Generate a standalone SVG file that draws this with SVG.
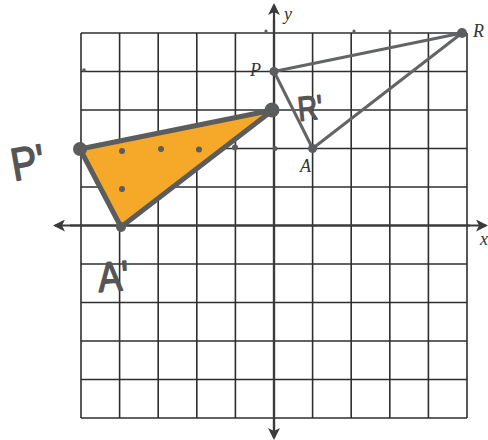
<svg xmlns="http://www.w3.org/2000/svg" width="488" height="440" viewBox="0 0 488 440">
<defs>
<style>
.grid line{stroke:#2e2e2e;stroke-width:1.6}
.axis{stroke:#3a3a3a;stroke-width:2.2;fill:none}
.lbl{font-family:"Liberation Serif",serif;font-style:italic;font-size:18px;fill:#333}
.hand{font-family:"Liberation Sans",sans-serif;fill:#555;stroke:#555;stroke-width:1.5;stroke-linejoin:round}
.orig{stroke:#626466;stroke-width:3;fill:none;stroke-linejoin:round}
.img{stroke:#5b5c5e;stroke-width:5;fill:#F6A928;stroke-linejoin:round}
.pt{fill:#5b5c5e}
</style>
<marker id="ah" viewBox="0 0 12 12" refX="10" refY="6" markerWidth="12" markerHeight="12" markerUnits="userSpaceOnUse" orient="auto">
<path d="M0,0 L12,6 L0,12 L3,6 Z" fill="#3a3a3a"/>
</marker>
</defs>
<rect width="488" height="440" fill="#ffffff"/>
<g id="grid" class="grid">
<line x1="81" y1="33" x2="81" y2="418"/>
<line x1="119.6" y1="33" x2="119.6" y2="418"/>
<line x1="158.2" y1="33" x2="158.2" y2="418"/>
<line x1="196.8" y1="33" x2="196.8" y2="418"/>
<line x1="235.4" y1="33" x2="235.4" y2="418"/>
<line x1="312.6" y1="33" x2="312.6" y2="418"/>
<line x1="351.2" y1="33" x2="351.2" y2="418"/>
<line x1="389.8" y1="33" x2="389.8" y2="418"/>
<line x1="428.4" y1="33" x2="428.4" y2="418"/>
<line x1="467" y1="33" x2="467" y2="418"/>
<line x1="81" y1="33" x2="467" y2="33"/>
<line x1="81" y1="71.5" x2="467" y2="71.5"/>
<line x1="81" y1="110" x2="467" y2="110"/>
<line x1="81" y1="148.5" x2="467" y2="148.5"/>
<line x1="81" y1="187" x2="467" y2="187"/>
<line x1="81" y1="264" x2="467" y2="264"/>
<line x1="81" y1="302.5" x2="467" y2="302.5"/>
<line x1="81" y1="341" x2="467" y2="341"/>
<line x1="81" y1="379.5" x2="467" y2="379.5"/>
<line x1="81" y1="418" x2="467" y2="418"/>
</g>
<g id="marks" class="pt">
<circle cx="266" cy="31" r="1.6"/>
<circle cx="354" cy="31" r="1.6"/>
<circle cx="390" cy="31" r="1.6"/>
<circle cx="84" cy="70" r="1.8"/>
</g>
<g id="axes">
<line class="axis" x1="274" y1="435" x2="274" y2="5" marker-end="url(#ah)"/>
<line class="axis" x1="274" y1="20" x2="274" y2="438" marker-end="url(#ah)"/>
<line class="axis" x1="70" y1="225.5" x2="486" y2="225.5" marker-end="url(#ah)"/>
<line class="axis" x1="470" y1="225.5" x2="55" y2="225.5" marker-end="url(#ah)"/>
<text class="lbl" x="284" y="20">y</text>
<text class="lbl" x="480" y="245">x</text>
</g>
<g id="triangle-PRA">
<polygon class="orig" points="274,71.5 462,33 312.6,148.5"/>
<circle class="pt" cx="274" cy="71.5" r="4.5"/>
<circle class="pt" cx="462" cy="33" r="5"/>
<circle class="pt" cx="312.6" cy="148.5" r="4.5"/>
<circle class="pt" cx="275" cy="148.5" r="2.5"/>
<text class="lbl" x="250" y="76">P</text>
<text class="lbl" x="473" y="37">R</text>
<text class="lbl" x="300" y="172">A</text>
</g>
<g id="triangle-image">
<polygon class="img" points="80,149 273,110 121,227"/>
<circle class="pt" cx="122" cy="151" r="3"/>
<circle class="pt" cx="161" cy="149" r="3"/>
<circle class="pt" cx="199" cy="149.5" r="3"/>
<circle class="pt" cx="235" cy="147.5" r="3"/>
<circle class="pt" cx="122" cy="189" r="3"/>
<circle class="pt" cx="80" cy="149" r="7"/>
<circle class="pt" cx="272" cy="110" r="7.5"/>
<circle class="pt" cx="121" cy="227" r="5"/>
</g>
<g id="labels-image">
<text class="hand" font-size="46" transform="translate(14 181) rotate(-10) scale(0.85 1)">P'</text>
<text class="hand" font-size="42" transform="translate(99 292) rotate(-4) scale(0.85 1)">A'</text>
<text class="hand" font-size="34" transform="translate(299 121) rotate(-6) scale(0.8 1)">R'</text>
</g>
</svg>
